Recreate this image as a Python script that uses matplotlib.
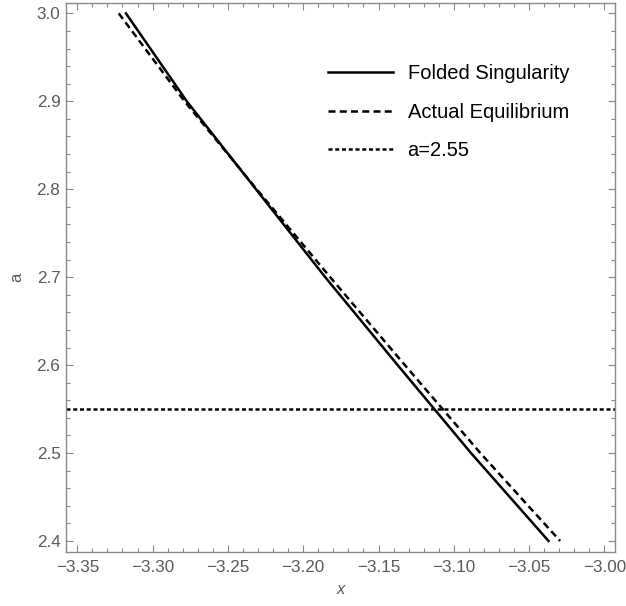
import matplotlib
matplotlib.use("Agg")
import matplotlib.pyplot as plt
from matplotlib.ticker import MultipleLocator

plt.rcParams['font.family'] = ['Liberation Sans', 'DejaVu Sans']

# values
a_vals = [3.0, 2.9, 2.8, 2.7, 2.6, 2.5, 2.4]
x_folded = [-3.3177, -3.2773, -3.2314, -3.1854, -3.1373, -3.0886, -3.0371]
x_equil = [-3.3225, -3.2788, -3.2309, -3.1821, -3.1325, -3.0824, -3.0294]
a_level = 2.55
labels = ['Folded Singularity', 'Actual Equilibrium', 'a=2.55']

frame_col = '#8a8a8a'
text_col = '#5a5a5a'

fig = plt.figure(figsize=(6.26, 6.06), dpi=100)
ax = fig.add_axes([66/626, 1 - 552/606, (615 - 66)/626, (552 - 3.3)/606])

ax.plot(x_folded, a_vals, color='black', lw=1.8, label=labels[0])
ax.plot(x_equil, a_vals, color='black', lw=1.8, linestyle=(0, (2.8, 1.7)), label=labels[1])
ax.axhline(a_level, color='black', lw=1.8, linestyle=(0, (1.6, 1.1)), label=labels[2])

ax.set_xlim(-3.3575, -2.993)
ax.set_ylim(2.3875, 3.0114)

ax.xaxis.set_major_locator(MultipleLocator(0.05))
ax.xaxis.set_minor_locator(MultipleLocator(0.01))
ax.yaxis.set_major_locator(MultipleLocator(0.1))
ax.yaxis.set_minor_locator(MultipleLocator(0.02))
ax.xaxis.set_major_formatter(plt.FuncFormatter(lambda v, p: ('%.2f' % v).replace('-', '\u2212')))
ax.yaxis.set_major_formatter(plt.FuncFormatter(lambda v, p: '%.1f' % v))

for s in ax.spines.values():
    s.set_color(frame_col)
    s.set_linewidth(1.0)
ax.tick_params(which='both', direction='in', top=True, right=True, color=frame_col,
               labelcolor=text_col, labelsize=12.3, width=0.8)
ax.tick_params(which='major', length=5)
ax.tick_params(axis='x', which='major', pad=6)
ax.tick_params(axis='y', which='major', pad=4)
ax.tick_params(which='minor', length=2.8)

ax.set_xlabel('x', style='italic', color=text_col, fontsize=12, labelpad=5)
ax.set_ylabel('a', color=text_col, fontsize=12, labelpad=9)

ax.legend(loc='upper left', bbox_to_anchor=(328/626, 1 - 64/606), bbox_transform=fig.transFigure,
          frameon=False, fontsize=14.5, handlelength=3.25, handletextpad=0.7,
          labelspacing=0.98, borderpad=0, borderaxespad=0)

fig.savefig('out.png', dpi=100)
